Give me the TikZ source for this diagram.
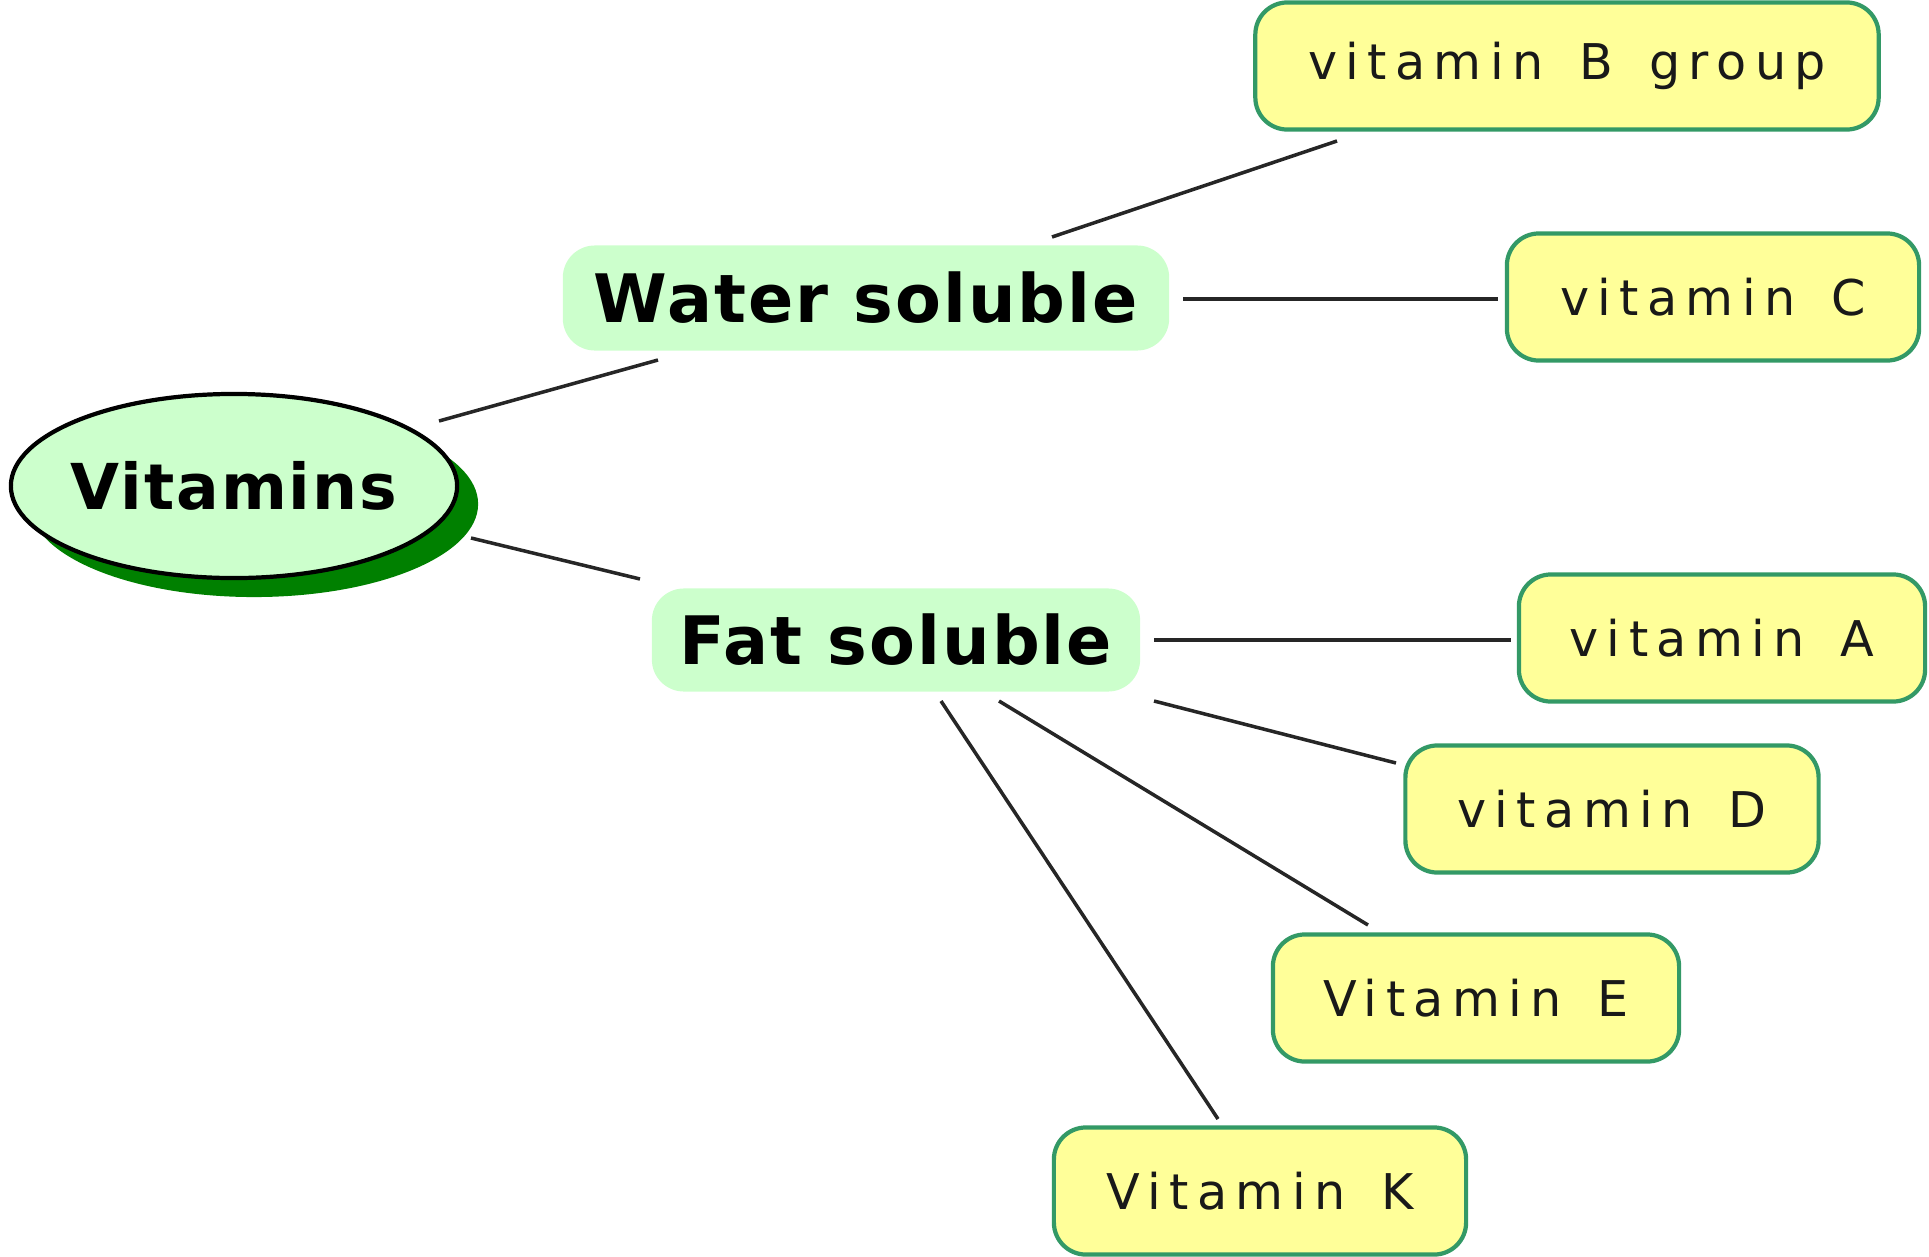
\documentclass[tikz,border=0pt]{standalone}
\usepackage{fontspec}
\setmainfont{DejaVu Sans}
\newfontfamily\leaffont[LetterSpace=17,WordSpace=1.5]{DejaVu Sans}
\newfontfamily\branchfont[LetterSpace=3]{DejaVu Sans}
\usetikzlibrary{shapes.geometric}
\definecolor{lgreen}{HTML}{CCFFCC}
\definecolor{lyellow}{HTML}{FFFF99}
\definecolor{bgreen}{HTML}{339966}
\definecolor{dgreen}{HTML}{008000}
\begin{document}
\begin{tikzpicture}[x=0.01cm,y=-0.01cm,
  leaf/.style={draw=bgreen, line width=1.2pt, fill=lyellow, rounded corners=0.32cm,
    minimum height=1.27cm, inner sep=0pt, text=black!90,
    font=\leaffont\fontsize{14}{16}\selectfont},
  branch/.style={fill=lgreen, rounded corners=0.32cm, inner sep=0pt, text=black,
    font=\branchfont\bfseries\fontsize{19}{22}\selectfont},
  conn/.style={line width=1pt, black!85}]
\useasboundingbox (0,0) rectangle (1929,1257);
% root with shadow
\node[ellipse, fill=dgreen, minimum width=4.48cm, minimum height=1.86cm, inner sep=0pt] (vitshadow) at (254,504) {};
\node[ellipse, draw=black, line width=1.2pt, fill=lgreen, minimum width=4.46cm, minimum height=1.84cm,
  inner sep=0pt,
  label={[font=\branchfont\bfseries\fontsize{18}{21}\selectfont, inner sep=0pt]center:Vitamins}] (vit) at (234,486) {};
% branches
\node[branch, minimum width=6.06cm, minimum height=1.05cm] (water) at (866,298) {Water soluble};
\node[branch, minimum width=4.88cm, minimum height=1.03cm] (fat) at (896,640) {Fat soluble};
% leaves
\node[leaf, minimum width=6.23cm] (vb) at (1567,66) {vitamin B group};
\node[leaf, minimum width=4.12cm] (vc) at (1713,297) {vitamin C};
\node[leaf, minimum width=4.06cm] (va) at (1722,638) {vitamin A};
\node[leaf, minimum width=4.13cm] (vd) at (1612,809) {vitamin D};
\node[leaf, minimum width=4.06cm] (ve) at (1476,998) {Vitamin E};
\node[leaf, minimum width=4.12cm] (vk) at (1260,1191) {Vitamin K};
% connector end points
\coordinate (c1a) at (439,421); \coordinate (c1b) at (658,360);
\coordinate (c2a) at (471,538); \coordinate (c2b) at (640,579);
\coordinate (c3a) at (1052,237); \coordinate (c3b) at (1337,141);
\coordinate (c4a) at (1183,299); \coordinate (c4b) at (1498,299);
\coordinate (c5a) at (1154,640); \coordinate (c5b) at (1511,640);
\coordinate (c6a) at (1154,701); \coordinate (c6b) at (1396,763);
\coordinate (c7a) at (999,701); \coordinate (c7b) at (1368,925);
\coordinate (c8a) at (941,701); \coordinate (c8b) at (1218,1119);
\draw[conn] (c1a) -- (c1b);
\draw[conn] (c2a) -- (c2b);
\draw[conn] (c3a) -- (c3b);
\draw[conn] (c4a) -- (c4b);
\draw[conn] (c5a) -- (c5b);
\draw[conn] (c6a) -- (c6b);
\draw[conn] (c7a) -- (c7b);
\draw[conn] (c8a) -- (c8b);
\end{tikzpicture}
\end{document}
